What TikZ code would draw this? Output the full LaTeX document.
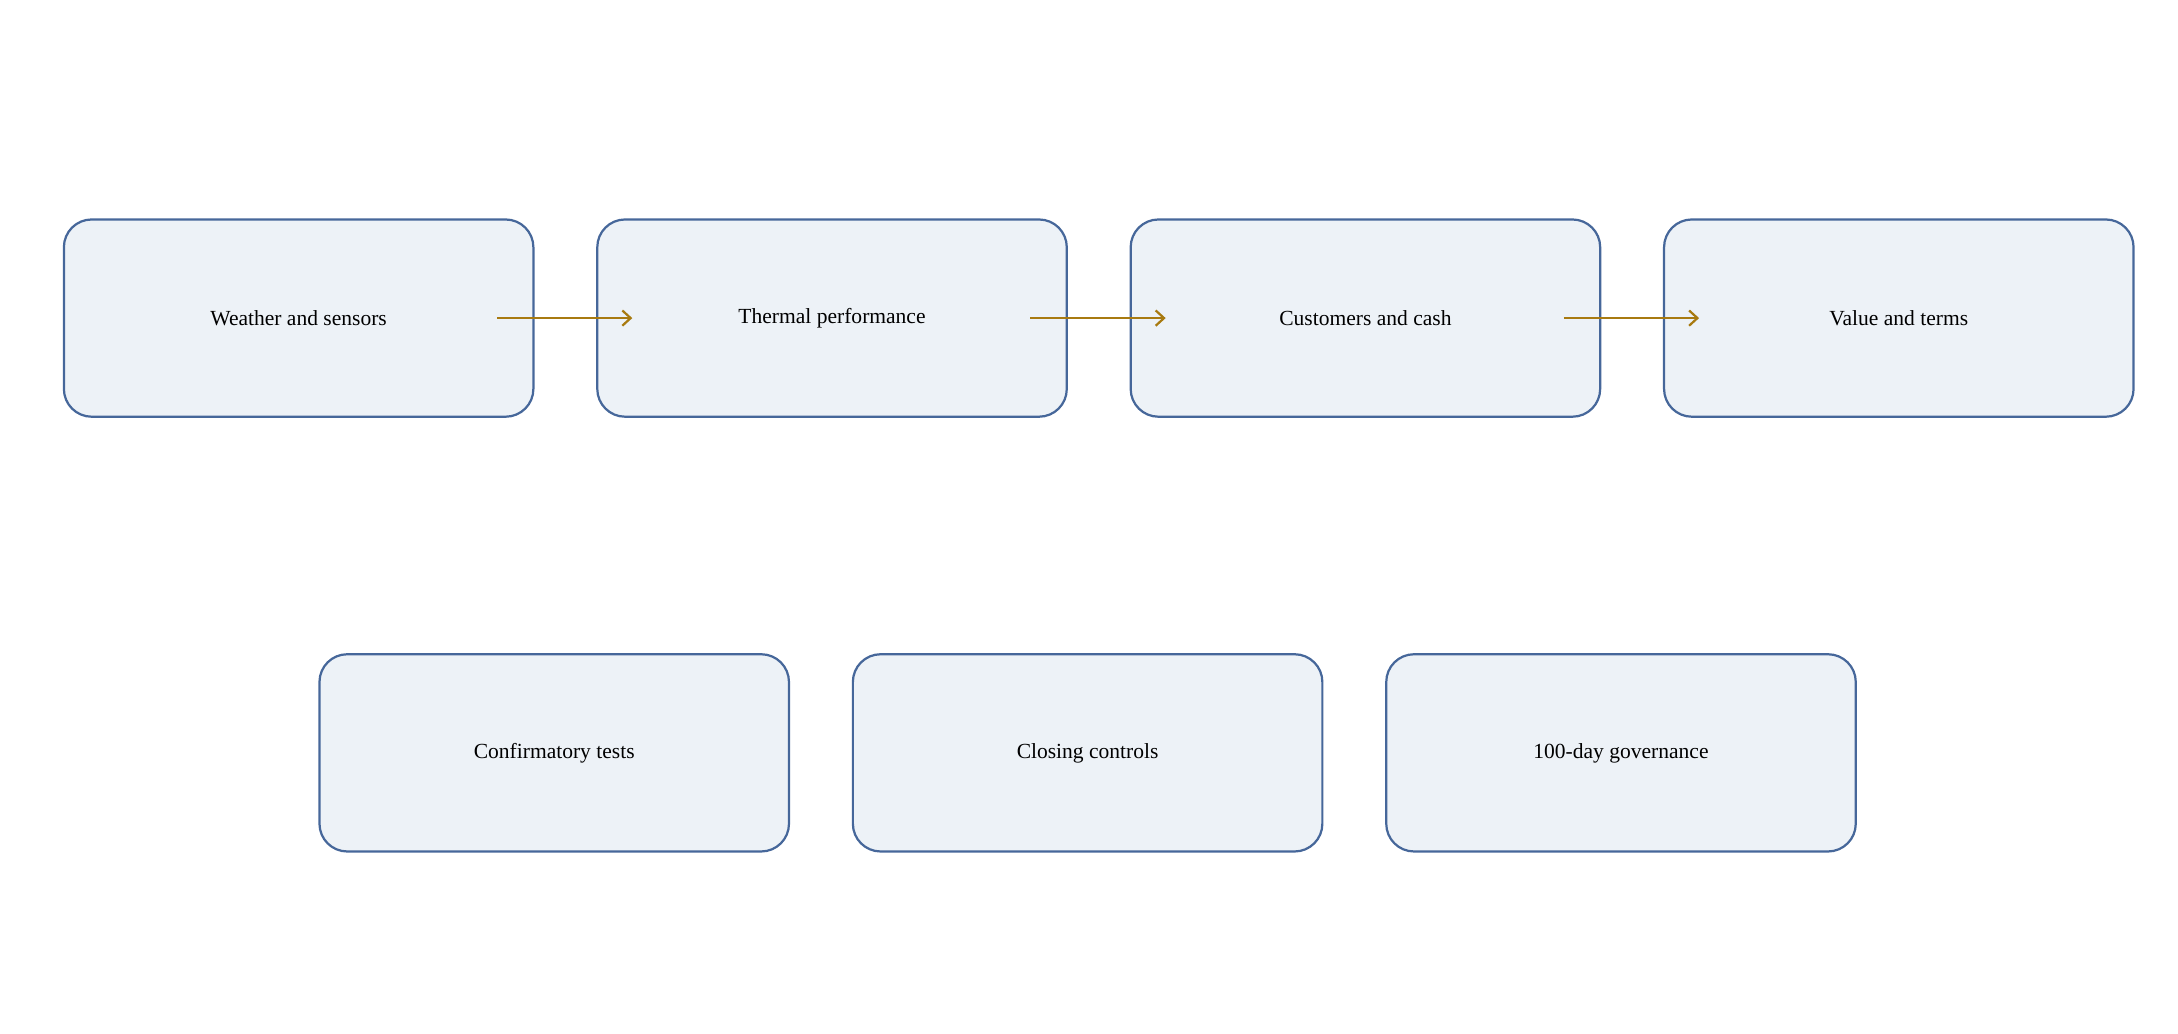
\documentclass[tikz,border=0pt]{standalone}
\usepackage{fontspec}
\setmainfont{Liberation Serif}
\usetikzlibrary{calc,arrows.meta}
\definecolor{boxline}{HTML}{46679A}
\definecolor{boxfill}{HTML}{EDF2F7}
\definecolor{flow}{HTML}{A87A10}
\begin{document}
\begin{tikzpicture}[x=1pt,y=-1pt]
        \tikzset{stage/.style={draw=boxline,fill=boxfill,line width=1.6pt,rounded corners=20pt,minimum width=338pt,minimum height=142pt,inner sep=0pt,font=\fontsize{15.5}{18}\selectfont}}
        \tikzset{link/.style={draw=flow,line width=1.6pt,-{Straight Barb[length=6pt,width=11pt]}}}
        \useasboundingbox (0,0) rectangle (1568,744);
        \node[stage] (ws) at (215,229) {Weather and sensors};
        \node[stage] (tp) at ($(ws)+(384,0)$) {Thermal performance};
        \node[stage] (cc) at ($(tp)+(384,0)$) {Customers and cash};
        \node[stage] (vt) at ($(cc)+(384,0)$) {Value and terms};
        
        \node[stage] (ct) at (399,542) {Confirmatory tests};
        \node[stage] (cl) at ($(ct)+(384,0)$) {Closing controls};
        \node[stage] (gv) at ($(cl)+(384,0)$) {100-day governance};
        
        \draw[link] ($(ws.east)+(-27,0)$) -- ($(tp.west)+(26,0)$);
        \draw[link] ($(tp.east)+(-27,0)$) -- ($(cc.west)+(26,0)$);
        \draw[link] ($(cc.east)+(-27,0)$) -- ($(vt.west)+(26,0)$);
    \end{tikzpicture}
\end{document}
